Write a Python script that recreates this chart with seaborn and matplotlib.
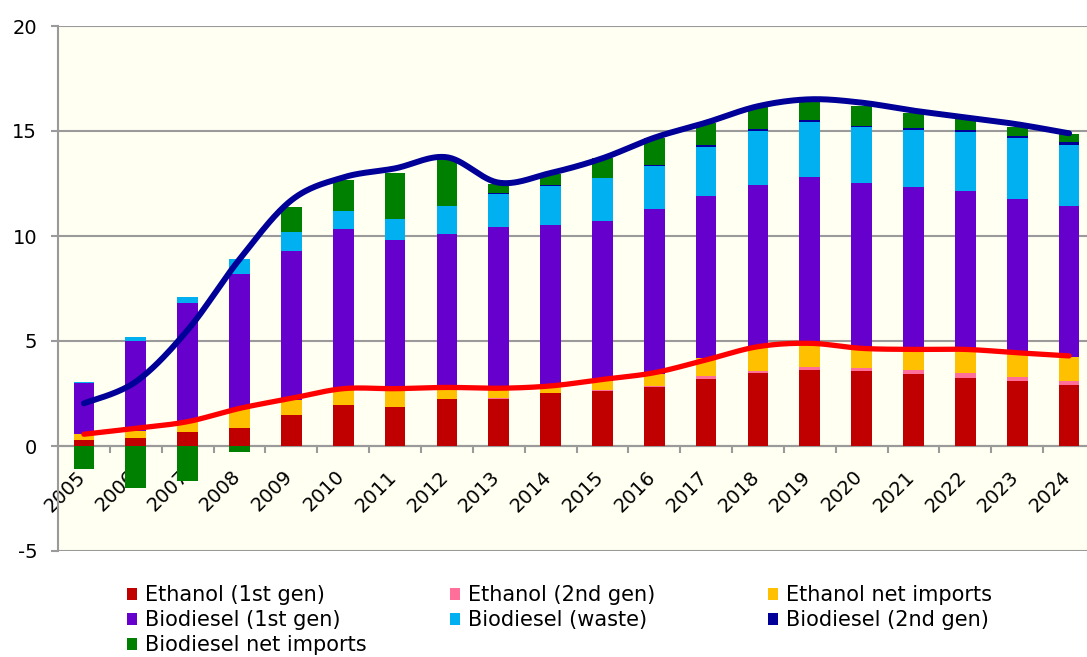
import numpy as np
import pandas as pd
import matplotlib
matplotlib.use("Agg")
import matplotlib.pyplot as plt
from matplotlib.patches import Patch
from matplotlib.ticker import FixedLocator
from matplotlib.transforms import ScaledTranslation
import seaborn as sns

plt.rcParams["axes.unicode_minus"] = False

years = [str(y) for y in range(2005, 2025)]

ethanol_1st = [0.29, 0.40, 0.65, 0.86, 1.46, 1.97, 1.84, 2.22, 2.24, 2.51,
               2.63, 2.83, 3.21, 3.46, 3.63, 3.56, 3.44, 3.25, 3.11, 2.92]
ethanol_2nd = [0.00, 0.00, 0.00, 0.00, 0.00, 0.00, 0.00, 0.00, 0.03, 0.03,
               0.04, 0.05, 0.11, 0.10, 0.15, 0.17, 0.19, 0.21, 0.18, 0.19]
ethanol_imp = [0.27, 0.31, 0.48, 0.89, 0.73, 0.75, 0.94, 0.58, 0.45, 0.26,
               0.43, 0.55, 0.85, 1.12, 1.10, 0.90, 0.95, 1.14, 1.17, 1.14]
biodiesel_1st = [2.42, 4.29, 5.66, 6.44, 7.11, 7.63, 7.05, 7.31, 7.72, 7.74,
                 7.61, 7.84, 7.75, 7.75, 7.93, 7.89, 7.74, 7.54, 7.32, 7.18]
biodiesel_waste = [0.07, 0.17, 0.29, 0.71, 0.89, 0.85, 0.97, 1.32, 1.58, 1.86,
                   2.04, 2.08, 2.33, 2.58, 2.63, 2.65, 2.73, 2.81, 2.87, 2.92]
biodiesel_2nd = [0.00, 0.00, 0.00, 0.00, 0.00, 0.00, 0.03, 0.02, 0.03, 0.03,
                 0.03, 0.05, 0.07, 0.09, 0.10, 0.08, 0.11, 0.11, 0.13, 0.14]
biodiesel_imp = [-1.10, -2.00, -1.65, -0.30, 1.18, 1.47, 2.17, 2.20, 0.45, 0.52,
                 0.92, 1.25, 1.08, 1.03, 0.86, 0.94, 0.71, 0.50, 0.42, 0.37]

# totals shown as smoothed lines
ethanol_total = [0.56, 0.84, 1.16, 1.79, 2.27, 2.73, 2.73, 2.79, 2.75, 2.86,
                 3.17, 3.49, 4.10, 4.73, 4.89, 4.65, 4.60, 4.60, 4.44, 4.29]
grand_total = [2.03, 3.06, 5.52, 8.89, 11.70, 12.79, 13.22, 13.75, 12.54, 13.00,
               13.70, 14.68, 15.40, 16.18, 16.51, 16.35, 15.97, 15.65, 15.32, 14.89]

series_names = ["Ethanol (1st gen)", "Ethanol (2nd gen)", "Ethanol net imports",
                "Biodiesel (1st gen)", "Biodiesel (waste)", "Biodiesel (2nd gen)",
                "Biodiesel net imports"]
series_vals = [ethanol_1st, ethanol_2nd, ethanol_imp, biodiesel_1st,
               biodiesel_waste, biodiesel_2nd, biodiesel_imp]
colors = ["#C00000", "#FF6F9A", "#FFC000", "#6600CC", "#00B0F0", "#000099", "#008000"]

BG = "#FFFFF2"
GRID = "#9A9A9A"

fig = plt.figure(figsize=(10.87, 6.57), dpi=100)
fig.patch.set_facecolor("white")
ax = fig.add_axes([58 / 1087, 1 - 551 / 657, 1037 / 1087, 525 / 657])
ax.set_facecolor(BG)

pos_bottom = np.zeros(len(years))
for name, vals, col in zip(series_names, series_vals, colors):
    v = np.array(vals, dtype=float)
    bottom = np.where(v >= 0, pos_bottom, 0.0)
    df = pd.DataFrame({"year": years, "value": v})
    sns.barplot(data=df, x="year", y="value", order=years, color=col,
                saturation=1, width=0.4, errorbar=None, bottom=bottom,
                linewidth=0, ax=ax, zorder=2)
    pos_bottom = pos_bottom + np.where(v >= 0, v, 0.0)


def smooth(yv, n=30):
    """Excel-style smoothed line (Catmull-Rom as cubic Bezier)."""
    yv = np.asarray(yv, dtype=float)
    xv = np.arange(len(yv), dtype=float)
    P = np.column_stack([xv, yv])
    Pe = np.vstack([P[0], P, P[-1]])
    out = []
    t = np.linspace(0, 1, n, endpoint=False)[:, None]
    for i in range(len(P) - 1):
        p0, p1, p2, p3 = Pe[i], Pe[i + 1], Pe[i + 2], Pe[i + 3]
        c1 = p1 + (p2 - p0) / 6
        c2 = p2 - (p3 - p1) / 6
        seg = ((1 - t) ** 3) * p1 + 3 * ((1 - t) ** 2) * t * c1 + 3 * (1 - t) * t ** 2 * c2 + t ** 3 * p2
        out.append(seg)
    out.append(P[-1][None, :])
    out = np.vstack(out)
    return out[:, 0], out[:, 1]


for tot, col, lw in [(ethanol_total, "#FF0000", 3.8), (grand_total, "#000099", 4.3)]:
    sx, sy = smooth(tot)
    sns.lineplot(x=sx, y=sy, color=col, linewidth=lw, sort=False, estimator=None,
                 legend=False, ax=ax, zorder=5, solid_capstyle="round")

ax.set_xlim(-0.5, 19.5)
ax.set_ylim(-5, 20)
ax.set_xlabel("")
ax.set_ylabel("")
ax.set_yticks([-5, 0, 5, 10, 15, 20])
ax.grid(axis="y", color=GRID, linewidth=1.5, zorder=0)
ax.grid(axis="x", visible=False)
ax.set_axisbelow(True)

for s in ["top", "right"]:
    ax.spines[s].set_visible(False)
ax.spines["left"].set_color(GRID)
ax.spines["left"].set_linewidth(1.5)
ax.spines["bottom"].set_position(("data", 0))
ax.spines["bottom"].set_color(GRID)
ax.spines["bottom"].set_linewidth(1.5)
ax.spines["bottom"].set_zorder(1)

ax.tick_params(axis="y", length=5, width=1.5, color=GRID, pad=10, labelsize=14,
               labelcolor="black", direction="out")
ax.set_xticks(range(len(years)))
ax.set_xticklabels([])
ax.xaxis.set_minor_locator(FixedLocator(np.arange(0.5, 19.0, 1.0)))
ax.tick_params(axis="x", which="major", length=0)
ax.tick_params(axis="x", which="minor", length=5, width=1.5, color=GRID, direction="out")

# year labels below the zero line, rotated 45 degrees
lab_trans = ax.transData + ScaledTranslation(5 / 100, -21 / 100, fig.dpi_scale_trans)
for i, yr in enumerate(years):
    ax.text(i, 0, yr, transform=lab_trans, rotation=45, ha="right", va="top",
            fontsize=14, color="black", zorder=1, clip_on=False)

handles = [Patch(facecolor=c, edgecolor="none") for c in colors]
columns = [([0, 3, 6], 127), ([1, 4], 450), ([2, 5], 768)]
for idx, xpix in columns:
    fig.legend([handles[i] for i in idx], [series_names[i] for i in idx],
               loc="upper left", bbox_to_anchor=(xpix / 1087, 1 - 585 / 657),
               bbox_transform=fig.transFigure, frameon=False, fontsize=15,
               borderpad=0, borderaxespad=0, handlelength=0.5, handleheight=0.5,
               handletextpad=0.35, labelspacing=0.25)

fig.savefig("out.png", dpi=100, facecolor="white")
